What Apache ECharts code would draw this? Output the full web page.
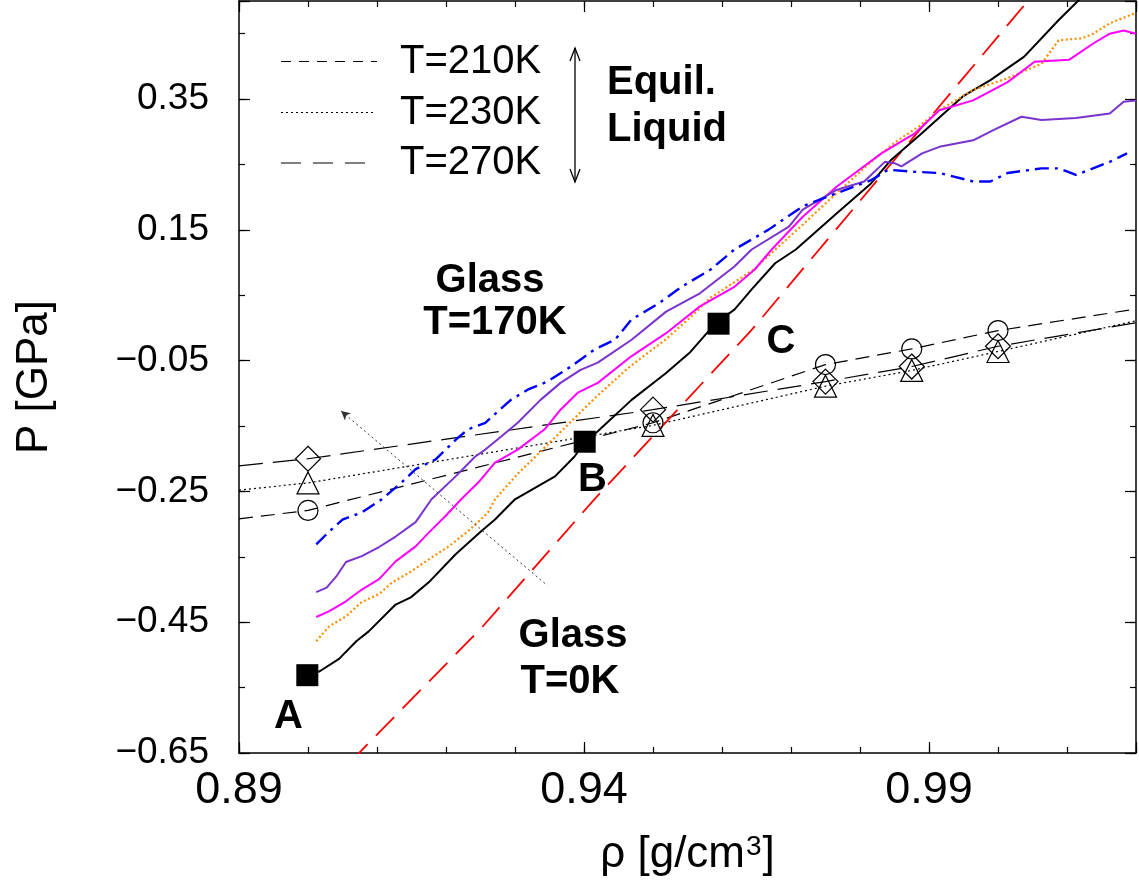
<!DOCTYPE html>
<html><head><meta charset="utf-8">
<script src="https://cdn.jsdelivr.net/npm/echarts@6/dist/echarts.min.js"></script>
<style>html,body{margin:0;padding:0;background:#fff}#c{width:1139px;height:892px}</style>
</head><body><div id="c"></div>
<script>
// ---------- data ----------
const xTickLabels = ['0.89', '0.94', '0.99'];
const yTickLabels = [-0.65, -0.45, -0.25, -0.05, 0.15, 0.35];

// glass heated curves (rho, P)
const curveBlack = [[0.8999,-0.531],[0.9017,-0.525],[0.9045,-0.506],[0.9070,-0.479],[0.9088,-0.464],[0.9127,-0.423],[0.9149,-0.412],[0.9175,-0.389],[0.9214,-0.346],[0.9251,-0.311],[0.9271,-0.293],[0.9300,-0.262],[0.9358,-0.227],[0.9386,-0.197],[0.9401,-0.175],[0.9420,-0.158],[0.9469,-0.110],[0.9519,-0.069],[0.9553,-0.038],[0.9578,-0.008],[0.9594,0.010],[0.9618,0.028],[0.9643,0.059],[0.9677,0.099],[0.9707,0.120],[0.9766,0.175],[0.9816,0.221],[0.9845,0.257],[0.9890,0.298],[0.9949,0.354],[0.9989,0.379],[1.0038,0.415],[1.0088,0.471],[1.0135,0.520]];
const curveOrange = [[0.9012,-0.479],[0.9031,-0.456],[0.9055,-0.441],[0.9078,-0.419],[0.9103,-0.407],[0.9122,-0.389],[0.9150,-0.372],[0.9175,-0.354],[0.9204,-0.334],[0.9232,-0.311],[0.9261,-0.282],[0.9271,-0.262],[0.9304,-0.223],[0.9343,-0.183],[0.9367,-0.158],[0.9415,-0.108],[0.9463,-0.062],[0.9519,-0.017],[0.9558,0.020],[0.9583,0.046],[0.9618,0.070],[0.9647,0.090],[0.9667,0.110],[0.9717,0.158],[0.9766,0.206],[0.9816,0.254],[0.9855,0.287],[0.9885,0.308],[0.9915,0.333],[0.9964,0.364],[1.0014,0.382],[1.0063,0.404],[1.0088,0.440],[1.0122,0.443],[1.0138,0.450],[1.0162,0.466],[1.0200,0.482]];
const curveMagenta = [[0.9012,-0.442],[0.9031,-0.433],[0.9055,-0.418],[0.9078,-0.400],[0.9103,-0.384],[0.9127,-0.357],[0.9156,-0.334],[0.9175,-0.313],[0.9199,-0.288],[0.9222,-0.262],[0.9247,-0.236],[0.9271,-0.206],[0.9304,-0.186],[0.9343,-0.155],[0.9366,-0.125],[0.9391,-0.099],[0.9420,-0.084],[0.9469,-0.043],[0.9519,-0.008],[0.9568,0.033],[0.9618,0.063],[0.9647,0.089],[0.9672,0.120],[0.9717,0.170],[0.9766,0.216],[0.9831,0.267],[0.9880,0.298],[0.9915,0.333],[0.9964,0.348],[1.0014,0.376],[1.0053,0.407],[1.0103,0.410],[1.0138,0.435],[1.0162,0.450],[1.0182,0.455],[1.0200,0.450]];
const curvePurple = [[0.9012,-0.404],[0.9027,-0.397],[0.9041,-0.380],[0.9055,-0.358],[0.9078,-0.349],[0.9103,-0.335],[0.9127,-0.319],[0.9156,-0.297],[0.9179,-0.262],[0.9214,-0.227],[0.9242,-0.197],[0.9257,-0.186],[0.9280,-0.166],[0.9304,-0.145],[0.9337,-0.110],[0.9366,-0.084],[0.9395,-0.064],[0.9420,-0.053],[0.9469,-0.018],[0.9519,0.025],[0.9568,0.053],[0.9618,0.094],[0.9643,0.120],[0.9697,0.155],[0.9717,0.181],[0.9766,0.211],[0.9806,0.224],[0.9836,0.254],[0.9850,0.252],[0.9860,0.247],[0.9890,0.267],[0.9915,0.277],[0.9964,0.287],[0.9994,0.303],[1.0034,0.323],[1.0063,0.318],[1.0113,0.321],[1.0162,0.328],[1.0182,0.346],[1.0200,0.348]];
const curveBlue = [[0.9012,-0.331],[0.9031,-0.311],[0.9050,-0.293],[0.9078,-0.282],[0.9107,-0.262],[0.9136,-0.236],[0.9156,-0.216],[0.9185,-0.201],[0.9214,-0.171],[0.9232,-0.155],[0.9257,-0.145],[0.9294,-0.110],[0.9319,-0.094],[0.9347,-0.082],[0.9381,-0.059],[0.9415,-0.033],[0.9445,-0.018],[0.9469,0.013],[0.9509,0.038],[0.9543,0.064],[0.9583,0.089],[0.9618,0.120],[0.9667,0.150],[0.9717,0.186],[0.9766,0.206],[0.9816,0.226],[0.9841,0.242],[0.9875,0.239],[0.9915,0.237],[0.9964,0.224],[0.9989,0.224],[1.0014,0.237],[1.0063,0.244],[1.0088,0.244],[1.0113,0.234],[1.0162,0.254],[1.0187,0.267]];
// T=0K glass
const curveRed = [[0.9060,-0.665],[0.9252,-0.458],[0.9415,-0.262],[0.9643,-0.003],[1.0044,0.501],[1.0060,0.520]];

// equilibrium liquid points
const rhoLiq = [0.90, 0.95, 0.975, 0.9875, 1.00];
const P210 = [-0.279, -0.145, -0.056, -0.032, -0.004];
const P230 = [-0.237, -0.149, -0.089, -0.065, -0.036];
const P270 = [-0.200, -0.125, -0.082, -0.059, -0.028];
// isotherm line ends at the plot edges (rho = 0.89 and 1.02)
const rhoEdge = [0.89, 1.02];
const P210edge = [-0.292, 0.029];
const P230edge = [-0.248, 0.011];
const P270edge = [-0.211, 0.008];

// state points A, B, C
const statePts = [[0.8999,-0.531],[0.9401,-0.174],[0.9595,0.0065]];
// dotted guide line
const guideLine = [[0.9048,-0.127],[0.9347,-0.394]];

// ---------- build ----------
const FONT = '"Liberation Sans", Arial, Helvetica, sans-serif';
const pairs = (xs, ys) => xs.map((x, i) => [x, ys[i]]);
const isoLine = (P, E) => [[rhoEdge[0], E[0]], ...pairs(rhoLiq, P), [rhoEdge[1], E[1]]];

const chart = echarts.init(document.getElementById('c'), null, {renderer: 'canvas'});

const xCommon = {type: 'value', min: 0.89, max: 1.02, splitLine: {show: false}};
const yCommon = {type: 'value', min: -0.65, max: 0.5, splitLine: {show: false}};
const lineAx = {show: true, onZero: false, lineStyle: {color: '#000', width: 1.5}};
const noLine = {show: false, onZero: false};
const tickMaj = {show: true, inside: true, length: 11, lineStyle: {color: '#000', width: 1.2}};
const tickMin = {show: true, inside: true, length: 6, lineStyle: {color: '#000', width: 1.2}};

const xLabelFmt = v => { const s = v.toFixed(2); return xTickLabels.includes(s) ? s : ''; };
const yLabelFmt = v => {
  const hit = yTickLabels.some(t => Math.abs(t - v) < 1e-6);
  return hit ? v.toFixed(2).replace('-', '\u2212') : '';
};

const lineSeries = (name, data, color, width, type) => ({
  name, type: 'line', data, showSymbol: false, symbol: 'none', animation: false,
  lineStyle: {color, width, type, opacity: 1}, z: 3
});
const markerSeries = (name, data, symbol, size) => ({
  name, type: 'scatter', data, symbol, symbolSize: size, animation: false, z: 5,
  itemStyle: {color: 'rgba(0,0,0,0)', borderColor: '#000', borderWidth: 1.2, opacity: 1}
});

const boldFont = 'bold 40px ' + FONT;
const txt = (text, x, y, align, font) => ({
  type: 'text', x, y, z: 20,
  style: {text, font: font || boldFont, fill: '#000', align: align || 'center', verticalAlign: 'middle'}
});

chart.setOption({
  animation: false,
  backgroundColor: '#fff',
  grid: {left: 239, right: -3, top: 1, bottom: 139, containLabel: false},
  xAxis: [
    Object.assign({}, xCommon, {position: 'bottom', interval: 0.05, axisLine: lineAx, axisTick: tickMaj,
      axisLabel: {formatter: xLabelFmt, fontSize: 45, margin: 15, color: '#000', fontFamily: FONT},
      name: '{n|\u03c1 [g/cm}{s|3}{n|]}', nameLocation: 'middle', nameGap: 80,
      nameTextStyle: {color: '#000', fontFamily: FONT, fontSize: 44,
        rich: {n: {fontSize: 44, fontFamily: FONT, color: '#000'}, s: {fontSize: 28, fontFamily: FONT, color: '#000', verticalAlign: 'top', padding: [0, 1, 0, 1]}}}}),
    Object.assign({}, xCommon, {position: 'bottom', interval: 0.01, axisLine: noLine, axisTick: tickMin, axisLabel: {show: false}}),
    Object.assign({}, xCommon, {position: 'top', interval: 0.05, axisLine: lineAx, axisTick: tickMaj, axisLabel: {show: false}}),
    Object.assign({}, xCommon, {position: 'top', interval: 0.01, axisLine: noLine, axisTick: tickMin, axisLabel: {show: false}})
  ],
  yAxis: [
    Object.assign({}, yCommon, {position: 'left', interval: 0.2, axisLine: lineAx, axisTick: tickMaj,
      axisLabel: {formatter: yLabelFmt, fontSize: 37, margin: 30, color: '#000', fontFamily: FONT},
      name: 'P [GPa]', nameLocation: 'middle', nameGap: 182, nameRotate: 90,
      nameTextStyle: {color: '#000', fontFamily: FONT, fontSize: 44}}),
    Object.assign({}, yCommon, {position: 'left', interval: 0.1, axisLine: noLine, axisTick: tickMin, axisLabel: {show: false}}),
    Object.assign({}, yCommon, {position: 'right', interval: 0.2, axisLine: lineAx, axisTick: tickMaj, axisLabel: {show: false}}),
    Object.assign({}, yCommon, {position: 'right', interval: 0.1, axisLine: noLine, axisTick: tickMin, axisLabel: {show: false}})
  ],
  series: [
    lineSeries('T=210K line', isoLine(P210, P210edge), '#000', 1.2, [14, 8]),
    lineSeries('T=230K line', isoLine(P230, P230edge), '#000', 1.2, [2, 3]),
    lineSeries('T=270K line', isoLine(P270, P270edge), '#000', 1.2, [24, 10]),
    lineSeries('red', curveRed, '#ff0000', 1.8, [26, 12]),
    lineSeries('black', curveBlack, '#000000', 2, 'solid'),
    lineSeries('orange', curveOrange, '#ff8c00', 2.2, [2, 2.5]),
    lineSeries('magenta', curveMagenta, '#ff00ff', 2, 'solid'),
    lineSeries('purple', curvePurple, '#7a33cc', 2, 'solid'),
    lineSeries('blue', curveBlue, '#0000ff', 2.4, [14, 6, 3, 6]),
    {type: 'line', data: [], animation: false, silent: true,
      markLine: {silent: true, animation: false, symbol: ['arrow', 'none'], symbolSize: [7, 9], label: {show: false},
        lineStyle: {type: [2, 3], color: '#333', width: 1},
        data: [[{coord: guideLine[0]}, {coord: guideLine[1]}]]}},
    markerSeries('T=210K', pairs(rhoLiq, P210), 'circle', 20),
    markerSeries('T=230K', pairs(rhoLiq, P230), 'triangle', 22),
    markerSeries('T=270K', pairs(rhoLiq, P270), 'diamond', 25),
    {name: 'states', type: 'scatter', data: statePts, symbol: 'rect', symbolSize: 22, z: 6, animation: false,
      itemStyle: {color: '#000', opacity: 1}}
  ],
  graphic: [
    {type: 'line', z: 20, shape: {x1: 281, y1: 61.5, x2: 377, y2: 61.5}, style: {stroke: '#000', lineWidth: 1.1, lineDash: [10, 8]}},
    {type: 'line', z: 20, shape: {x1: 281, y1: 112.5, x2: 376, y2: 112.5}, style: {stroke: '#000', lineWidth: 1.1, lineDash: [2, 3]}},
    {type: 'line', z: 20, shape: {x1: 281, y1: 163, x2: 367, y2: 163}, style: {stroke: '#000', lineWidth: 1.1, lineDash: [20, 12]}},
    txt('T=210K', 400, 61.5, 'left', '40px ' + FONT),
    txt('T=230K', 400, 112.5, 'left', '40px ' + FONT),
    txt('T=270K', 400, 163, 'left', '40px ' + FONT),
    {type: 'line', z: 20, shape: {x1: 575, y1: 48, x2: 575, y2: 182}, style: {stroke: '#000', lineWidth: 1.3}},
    {type: 'polyline', z: 20, shape: {points: [[570, 61], [575, 48], [580, 61]]}, style: {stroke: '#000', lineWidth: 1.3, fill: null}},
    {type: 'polyline', z: 20, shape: {points: [[570, 169], [575, 182], [580, 169]]}, style: {stroke: '#000', lineWidth: 1.3, fill: null}},
    txt('Equil.', 607, 83, 'left'),
    txt('Liquid', 607, 130, 'left'),
    txt('Glass', 490, 281),
    txt('T=170K', 495, 323),
    txt('Glass', 573, 636),
    txt('T=0K', 570, 682),
    txt('A', 288.5, 717),
    txt('B', 592.5, 480),
    txt('C', 781, 342)
  ]
});
</script>
</body></html>
